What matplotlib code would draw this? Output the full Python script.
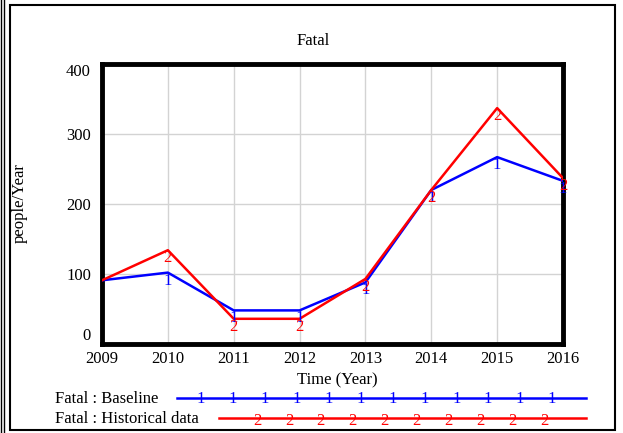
import matplotlib.pyplot as plt
from matplotlib.lines import Line2D
from matplotlib.patches import Rectangle

plt.rcParams['font.family'] = ['Liberation Serif', 'DejaVu Serif']

years = [2009, 2010, 2011, 2012, 2013, 2014, 2015, 2016]
baseline = [91, 102, 48, 48, 88, 220, 267, 233]
historical = [91, 134, 36, 36, 93, 220, 337, 237]
y_ticks = [0, 100, 200, 300, 400]

W, H = 623, 433
def fx(px):
    return px / W
def fy(py):
    return 1 - py / H

fig = plt.figure(figsize=(6.23, 4.33), dpi=100)
ax = fig.add_axes([fx(102), fy(344), 461 / W, 280 / H])

ax.plot(years, baseline, color='blue', lw=1.8, zorder=3)
ax.plot(years, historical, color='red', lw=1.8, zorder=3)
# numbered markers like the original (first point sits under the spine)
for x, y in zip(years[1:], baseline[1:]):
    ax.text(x, y, '1', color='blue', fontsize=12, ha='center', va='top', zorder=4)
for x, y in zip(years[1:], historical[1:]):
    ax.text(x, y, '2', color='red', fontsize=12, ha='center', va='top', zorder=4)

ax.set_xlim(2009, 2016)
ax.set_ylim(0, 400)
ax.set_xticks(years)
ax.set_yticks(y_ticks)
ax.grid(True, color='#d3d3d3', lw=1)
ax.tick_params(length=0, labelsize=12)
ax.tick_params(axis='x', pad=5)
ax.tick_params(axis='y', pad=8)
ylabs = ax.get_yticklabels()
ylabs[0].set_verticalalignment('bottom')
ylabs[-1].set_verticalalignment('top')
for s in ax.spines.values():
    s.set_linewidth(3.5)
    s.set_color('black')
ax.set_title('Fatal', fontsize=12, x=(313 - 102) / 461, pad=14)
ax.set_xlabel('Time (Year)', fontsize=12)
ax.xaxis.set_label_coords((337 - 102) / 461, (344 - 372) / 280)
ax.set_ylabel('people/Year', fontsize=12)
ax.yaxis.set_label_coords((28 - 102) / 461, (344 - 203) / 280)

# legend rows drawn like the original tool
fig.text(fx(55), fy(399), 'Fatal : Baseline', fontsize=12, va='center')
fig.add_artist(Line2D([fx(177), fx(586)], [fy(398), fy(398)], color='blue', lw=1.8))
for i in range(12):
    fig.text(fx(201 + i * 31.9), fy(399), '1', color='blue', fontsize=12,
             ha='center', va='center')
fig.text(fx(55), fy(419), 'Fatal : Historical data', fontsize=12, va='center')
fig.add_artist(Line2D([fx(219), fx(586)], [fy(418), fy(418)], color='red', lw=1.8))
for i in range(10):
    fig.text(fx(257 + i * 31.9), fy(421), '2', color='red', fontsize=12,
             ha='center', va='center')

# outer frame
fig.add_artist(Rectangle((fx(10), fy(430)), fx(615) - fx(10), fy(5) - fy(430),
                         fill=False, lw=1.5, ec='black', transform=fig.transFigure))
fig.add_artist(Line2D([fx(1), fx(1)], [0, 1], color='black', lw=1))
fig.add_artist(Line2D([fx(4), fx(4)], [0, 1], color='black', lw=1))

fig.savefig('out.png', dpi=100)
